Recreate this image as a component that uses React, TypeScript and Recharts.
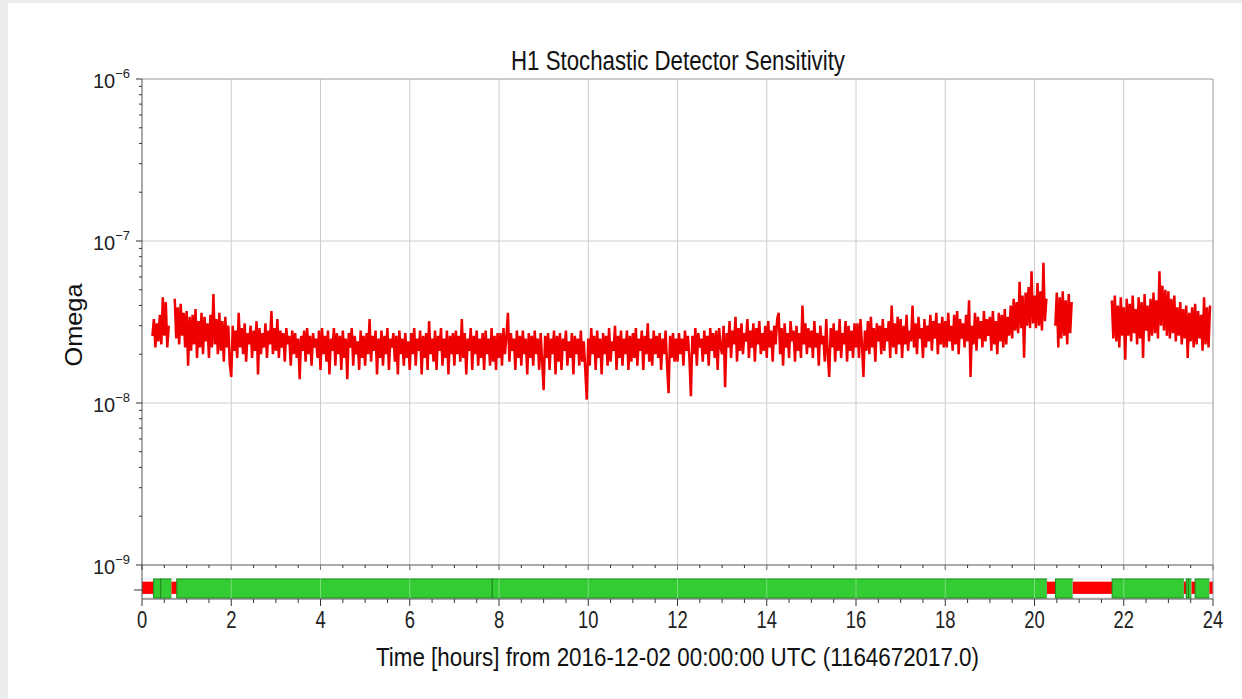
import React from 'react';
import { LineChart, Line, XAxis, YAxis, ReferenceLine, BarChart, Bar } from 'recharts';

// Omega in units of 1e-8, 30 samples per hour (one every 2 minutes), null = no data
const omegaE8 = [
  // 00h
  null, null, null, null, null, null, null, 2.6, 3.3, 2.2, 3.1, 2.4, 3.5, 2.3, 4.5,
  2.6, 4.2, 2.2, 3.0, null, null, null, 4.4, 2.5, 3.9, 2.3, 4.1, 2.6, 3.6, 2.2,
  // 01h
  3.7, 1.7, 3.4, 2.1, 3.5, 2.3, 3.8, 1.9, 3.2, 2.2, 3.6, 2.0, 3.4, 2.4, 3.1,
  1.9, 3.5, 2.2, 4.7, 2.3, 3.3, 2.0, 3.6, 2.1, 3.2, 1.8, 3.4, 2.2, 3.0, 1.75,
  // 02h
  1.45, 3.0, 2.1, 2.8, 1.9, 3.6, 2.2, 2.9, 2.0, 3.1, 1.8, 2.7, 2.3, 3.0, 1.9,
  2.8, 2.1, 3.2, 1.5, 2.9, 2.0, 2.7, 2.2, 3.1, 1.9, 2.8, 2.3, 3.7, 2.0, 2.9,
  // 03h
  2.1, 3.3, 1.9, 2.8, 2.2, 2.7, 1.8, 2.9, 2.3, 2.6, 1.7, 2.8, 2.0, 2.7, 1.9,
  2.5, 1.4, 2.6, 2.1, 2.8, 1.8, 2.9, 2.0, 2.6, 1.7, 2.7, 2.2, 2.5, 1.9, 2.8,
  // 04h
  1.6, 2.9, 2.0, 2.6, 1.8, 2.8, 1.5, 2.5, 2.1, 2.9, 1.7, 2.7, 2.0, 2.6, 1.6,
  2.8, 1.9, 2.5, 1.4, 2.7, 2.2, 2.9, 1.7, 2.6, 2.0, 2.4, 1.6, 2.8, 1.9, 2.6,
  // 05h
  1.7, 2.7, 2.0, 3.3, 1.8, 2.6, 2.1, 2.8, 1.5, 2.5, 1.9, 2.8, 1.7, 2.6, 2.0,
  2.9, 1.6, 2.5, 2.2, 2.7, 1.8, 2.6, 1.5, 2.8, 2.0, 2.5, 1.7, 2.7, 1.9, 2.4,
  // 06h
  1.6, 2.7, 2.0, 2.9, 1.7, 2.5, 2.1, 2.8, 1.5, 2.6, 1.9, 2.7, 1.6, 3.2, 2.0,
  2.5, 1.8, 2.8, 1.6, 2.6, 2.1, 2.9, 1.7, 2.5, 1.9, 2.8, 1.5, 2.6, 2.0, 2.7,
  // 07h
  1.7, 2.8, 2.0, 2.6, 1.8, 3.3, 1.9, 2.7, 1.5, 2.5, 2.1, 2.9, 1.6, 2.6, 2.0,
  2.8, 1.7, 2.5, 1.9, 2.7, 1.6, 2.8, 2.0, 2.5, 1.7, 2.9, 1.8, 2.6, 1.6, 2.7,
  // 08h
  1.9, 2.7, 1.7, 2.9, 2.0, 2.6, 3.6, 1.8, 2.7, 2.1, 2.5, 1.6, 2.8, 1.9, 2.6,
  1.7, 2.8, 2.0, 2.5, 1.5, 2.7, 1.9, 2.6, 1.7, 2.8, 2.0, 2.5, 1.6, 2.7, 1.8,
  // 09h
  1.2, 2.6, 1.9, 2.7, 1.6, 2.5, 2.0, 2.8, 1.5, 2.6, 1.8, 2.7, 1.6, 2.5, 2.1,
  2.8, 1.7, 2.4, 1.9, 2.7, 1.5, 2.6, 2.0, 2.5, 1.7, 2.8, 1.8, 2.4, 1.6, 1.05,
  // 10h
  2.5, 1.7, 2.9, 2.0, 2.6, 1.6, 2.8, 1.9, 2.5, 1.5, 2.7, 2.0, 2.6, 1.7, 2.9,
  1.8, 2.4, 2.1, 3.0, 1.6, 2.6, 1.9, 2.8, 1.7, 2.5, 2.0, 2.8, 1.6, 2.6, 1.8,
  // 11h
  2.7, 1.9, 2.9, 1.7, 2.5, 2.1, 2.8, 1.6, 2.6, 2.0, 3.1, 1.8, 2.5, 1.7, 2.8,
  2.0, 2.6, 1.9, 2.7, 1.6, 2.5, 2.0, 2.8, 1.7, 1.15, 2.6, 1.9, 2.7, 1.8, 2.5,
  // 12h
  1.8, 2.7, 2.0, 2.5, 1.7, 2.8, 2.1, 2.6, 1.9, 1.1, 2.6, 2.0, 2.9, 1.7, 2.7,
  2.2, 2.5, 1.8, 2.8, 2.0, 2.6, 1.7, 2.9, 2.1, 2.7, 1.9, 2.8, 1.6, 2.9, 2.2,
  // 13h
  2.0, 3.0, 1.25, 2.7, 2.2, 3.2, 1.9, 2.8, 2.3, 3.4, 1.8, 2.9, 2.1, 3.1, 2.0,
  2.7, 2.4, 3.3, 1.9, 2.8, 2.2, 3.1, 1.8, 2.9, 2.3, 3.2, 2.0, 2.7, 2.1, 3.0,
  // 14h
  1.9, 3.2, 2.2, 2.8, 1.8, 3.0, 2.3, 3.3, 3.6, 2.0, 2.9, 1.7, 3.1, 2.2, 2.7,
  1.9, 3.2, 2.4, 2.8, 1.8, 3.0, 2.1, 2.7, 1.9, 4.0, 2.3, 3.1, 2.0, 2.9, 2.2,
  // 15h
  2.8, 1.9, 3.2, 2.2, 2.7, 1.7, 3.0, 2.3, 2.6, 1.8, 3.3, 2.0, 1.45, 2.9, 2.2,
  3.1, 1.8, 2.8, 2.1, 3.3, 1.9, 2.7, 2.3, 3.2, 1.8, 3.0, 2.1, 2.8, 1.9, 3.1,
  // 16h
  2.2, 3.1, 1.9, 3.3, 2.3, 1.45, 2.8, 2.1, 3.2, 2.0, 3.4, 2.2, 2.9, 1.8, 3.1,
  2.4, 3.0, 2.0, 3.3, 2.1, 2.9, 2.4, 3.2, 1.9, 4.0, 2.2, 3.1, 2.0, 3.4, 2.3,
  // 17h
  3.3, 1.9, 3.0, 2.3, 3.5, 2.1, 2.8, 2.4, 4.0, 2.2, 3.1, 2.0, 3.4, 2.5, 2.9,
  1.9, 3.3, 2.2, 3.0, 2.4, 3.5, 2.1, 3.2, 2.5, 3.6, 2.0, 3.1, 2.3, 3.4, 2.2,
  // 18h
  3.2, 2.2, 3.6, 2.4, 3.0, 2.1, 3.5, 2.3, 3.7, 2.0, 3.3, 2.5, 3.1, 2.2, 3.5,
  2.4, 4.3, 1.45, 3.0, 2.3, 3.6, 2.1, 3.4, 2.5, 3.2, 2.2, 3.7, 2.4, 3.3, 2.6,
  // 19h
  3.4, 2.1, 3.7, 2.3, 3.2, 2.0, 3.6, 2.4, 3.5, 2.2, 3.8, 2.3, 3.4, 2.6, 4.0,
  2.5, 4.4, 2.8, 4.2, 2.7, 5.6, 2.9, 4.6, 1.9, 4.8, 3.0, 5.2, 2.9, 6.5, 3.1,
  // 20h
  4.6, 2.9, 5.5, 3.0, 4.9, 2.8, 7.35, 3.2, 4.4, null, null, null, null, null, 3.0,
  4.8, 2.2, 4.5, 2.5, 4.9, 2.6, 4.3, 2.3, 4.7, 2.7, 4.2, null, null, null, null,
  // 21h
  null, null, null, null, null, null, null, null, null, null, null, null, null, null, null,
  null, null, null, null, null, null, null, 4.3, 2.5, 4.6, 2.4, 4.0, 2.2, 4.5, 2.6,
  // 22h
  3.9, 1.85, 4.4, 2.6, 4.1, 2.4, 4.6, 2.7, 3.8, 2.3, 4.5, 2.5, 4.2, 1.9, 4.7,
  2.8, 4.0, 2.4, 4.4, 2.6, 4.8, 2.7, 4.3, 2.5, 6.5, 3.0, 5.3, 2.8, 5.0, 2.6,
  // 23h
  4.9, 2.5, 4.4, 2.7, 4.6, 2.4, 3.9, 2.6, 4.2, 2.3, 3.8, 2.5, 4.0, 1.9, 3.6,
  2.4, 3.9, 2.2, 4.1, 2.3, 3.7, 2.5, 3.5, 2.1, 4.5, 2.3, 3.9, 2.2, 4.0, null,
];
const samplesPerHour = 30;

// state segments (hours): edges and whether the detector was in science mode
const segmentEdges = [0, 0.26, 0.42, 0.66, 0.78, 7.85, 20.28, 20.47, 20.86, 21.74, 23.35, 23.4, 23.45, 23.52, 23.6, 23.92, 24];
const segmentActive = [false, true, true, false, true, true, false, true, false, true, false, true, true, false, true, false];

const hourLabels = [0, 2, 4, 6, 8, 10, 12, 14, 16, 18, 20, 22, 24];
const decadeExponents = [-9, -8, -7, -6];
const minorMultipliers = [2, 3, 4, 5, 6, 7, 8, 9];

const title = 'H1 Stochastic Detector Sensitivity';
const xTitle = 'Time [hours] from 2016-12-02 00:00:00 UTC (1164672017.0)';
const yTitle = 'Omega';

const FONT = '"Liberation Sans", Arial, Helvetica, sans-serif';
const W = 1234;
const RED = '#ee0000';
const AXIS = '#555';
const GRID = '#cccccc';

const lineData = omegaE8.map((v, i) => ({ t: i / samplesPerHour, omega: v == null ? null : v * 1e-8 }));

const halfHourTicks: number[] = [];
for (let h = 0; h <= 48; h++) halfHourTicks.push(h / 2);
const decades = decadeExponents.map((e) => Math.pow(10, e));
const yTicks: number[] = [];
decadeExponents.forEach((e, i) => {
  yTicks.push(Math.pow(10, e));
  if (i < decadeExponents.length - 1) minorMultipliers.forEach((m) => yTicks.push(m * Math.pow(10, e)));
});

const segRow: Record<string, number | string> = { row: 'H1' };
segmentActive.forEach((_, i) => {
  segRow[`s${i}`] = segmentEdges[i + 1] - segmentEdges[i];
});

const OmegaTick = (props: any) => {
  const { x, y, payload } = props;
  const v = payload.value as number;
  const exp = Math.round(Math.log10(v));
  const major = Math.abs(v / Math.pow(10, exp) - 1) < 1e-6;
  return (
    <g>
      <line x1={x - (major ? 6 : 3)} x2={x} y1={y} y2={y} stroke="#333" strokeWidth={1} />
      {major && (
        <text x={x - 12} y={y + 9} textAnchor="end" fontSize={20} fill="#222" fontFamily={FONT}>
          10
          <tspan dy={-10} fontSize={13}>
            {'\u2212' + -exp}
          </tspan>
        </text>
      )}
    </g>
  );
};

const TopTick = (props: any) => {
  const { x, y, payload } = props;
  const major = payload.value % 2 === 0;
  return <line x1={x} x2={x} y1={y} y2={y + (major ? 5 : 3)} stroke="#333" strokeWidth={1} />;
};

const HourTick = (props: any) => {
  const { x, y, payload } = props;
  const major = payload.value % 2 === 0;
  return (
    <g>
      <line x1={x} x2={x} y1={y} y2={y + (major ? 7 : 4)} stroke="#333" strokeWidth={1} />
      {major && (
        <text
          transform={`translate(${x},${y + 29}) scale(0.8,1)`}
          textAnchor="middle"
          fontSize={23}
          fill="#222"
          fontFamily={FONT}
        >
          {payload.value}
        </text>
      )}
    </g>
  );
};

const RowTick = (props: any) => {
  const { x, y } = props;
  return <line x1={x - 8} x2={x} y1={y + 8} y2={y + 8} stroke="#333" strokeWidth={1} />;
};

const SegmentShape = (props: any) => {
  const { x, y, width, height, active } = props;
  if (active) {
    return (
      <rect x={x} y={y + height * 0.41} width={width} height={height * 0.56} fill="#33cc33" stroke="#1d8a1d" strokeWidth={1} />
    );
  }
  return (
    <g>
      <rect x={x} y={y + height * 0.41} width={width} height={height * 0.56} fill="#fff" stroke="#cfcfcf" strokeWidth={0.6} />
      <rect x={x} y={y + height * 0.49} width={width} height={height * 0.36} fill="#ff0000" />
    </g>
  );
};

export default function App() {
  return (
    <div style={{ position: 'absolute', left: 0, top: 0, width: 1242, height: 699, background: '#ececec' }}>
      <div style={{ position: 'absolute', left: 8, top: 3, width: W, height: 696, background: '#fff', fontFamily: FONT }}>
        <div style={{ position: 'absolute', left: 0, top: 0 }}>
          <LineChart width={W} height={575} data={lineData} margin={{ top: 76, right: 29, bottom: 0, left: 0 }}>
            <XAxis
              dataKey="t"
              type="number"
              domain={[0, 24]}
              ticks={halfHourTicks}
              interval={0}
              height={13}
              tickSize={0}
              tickMargin={0}
              tickLine={false}
              axisLine={{ stroke: AXIS }}
              tick={<TopTick />}
            />
            <YAxis
              type="number"
              scale="log"
              domain={[1e-9, 1e-6]}
              allowDataOverflow
              ticks={yTicks}
              interval={0}
              width={134}
              tickSize={0}
              tickMargin={0}
              tickLine={false}
              axisLine={{ stroke: AXIS }}
              tick={<OmegaTick />}
            />
            {hourLabels.slice(1, -1).map((h) => (
              <ReferenceLine key={`v${h}`} x={h} stroke={GRID} strokeWidth={1} />
            ))}
            {decades.slice(1, -1).map((d) => (
              <ReferenceLine key={`h${d}`} y={d} stroke={GRID} strokeWidth={1} />
            ))}
            <ReferenceLine y={1e-6} stroke="#999" strokeWidth={1} />
            <ReferenceLine x={24} stroke="#999" strokeWidth={1} />
            <Line
              dataKey="omega"
              type="linear"
              stroke={RED}
              strokeWidth={2.5}
              dot={false}
              connectNulls={false}
              isAnimationActive={false}
            />
          </LineChart>
        </div>
        <div style={{ position: 'absolute', left: 0, top: 562 }}>
          <BarChart
            width={W}
            height={134}
            data={[segRow]}
            layout="vertical"
            margin={{ top: 0, right: 29, bottom: 0, left: 0 }}
            barCategoryGap={0}
            barGap={0}
          >
            <XAxis
              type="number"
              domain={[0, 24]}
              ticks={halfHourTicks}
              interval={0}
              height={100}
              tickSize={0}
              tickMargin={0}
              tickLine={false}
              axisLine={{ stroke: AXIS }}
              tick={<HourTick />}
            />
            <YAxis
              type="category"
              dataKey="row"
              width={134}
              tickSize={0}
              tickMargin={0}
              tickLine={false}
              axisLine={{ stroke: AXIS }}
              tick={<RowTick />}
            />
            {segmentActive.map((active, i) => (
              <Bar
                key={i}
                dataKey={`s${i}`}
                stackId="seg"
                isAnimationActive={false}
                shape={(p: any) => <SegmentShape {...p} active={active} />}
              />
            ))}
            {hourLabels.slice(1, -1).map((h) => (
              <ReferenceLine key={`g${h}`} x={h} stroke="#ffffff" strokeOpacity={0.35} strokeWidth={1} />
            ))}
            <ReferenceLine x={24} stroke="#999" strokeWidth={1} />
          </BarChart>
        </div>
        <svg width={W} height={696} style={{ position: 'absolute', left: 0, top: 0, pointerEvents: 'none' }}>
          <text x={670} y={67} textAnchor="middle" fontSize={27} fill="#111" fontFamily={FONT} textLength={334} lengthAdjust="spacingAndGlyphs">
            {title}
          </text>
          <text x={669.5} y={663} textAnchor="middle" fontSize={26} fill="#111" fontFamily={FONT} textLength={603} lengthAdjust="spacingAndGlyphs">
            {xTitle}
          </text>
          <text x={74} y={322} transform="rotate(-90, 74, 322)" textAnchor="middle" fontSize={24} fill="#111" fontFamily={FONT} textLength={83} lengthAdjust="spacingAndGlyphs">
            {yTitle}
          </text>
        </svg>
      </div>
    </div>
  );
}
